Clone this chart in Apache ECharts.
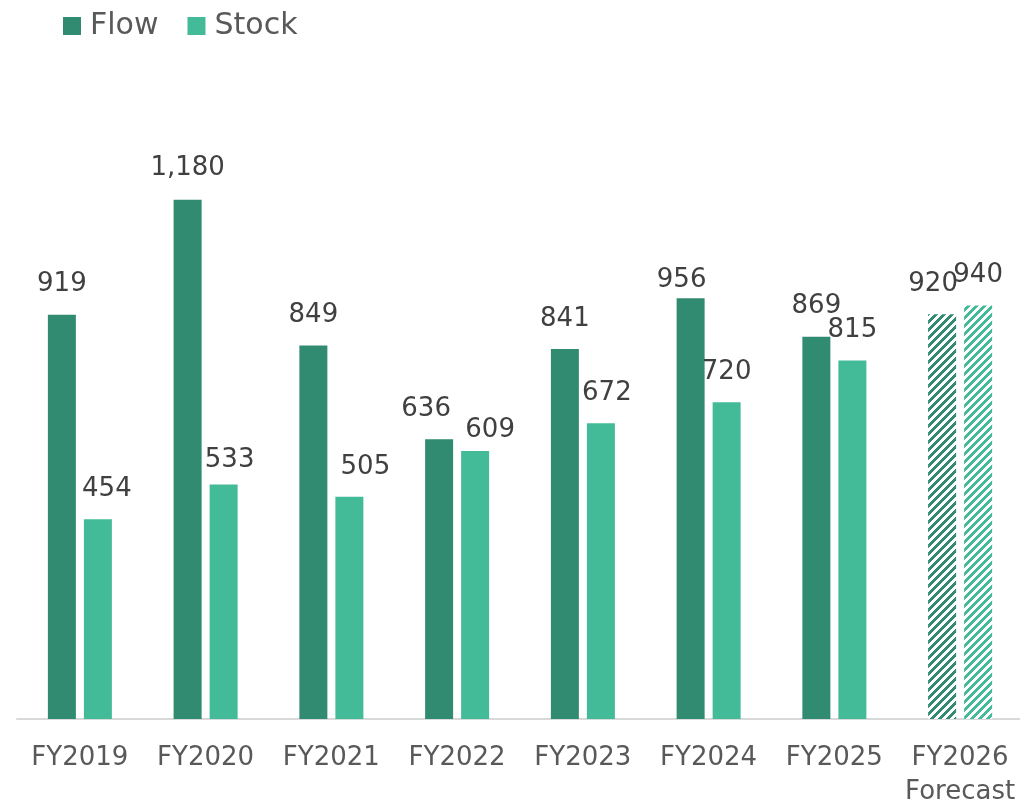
<!DOCTYPE html>
<html>
<head>
<meta charset="utf-8">
<script src="https://cdn.jsdelivr.net/npm/echarts@6/dist/echarts.min.js"></script>
<style>html,body{margin:0;padding:0;background:#fff;}#chart{width:1020px;height:802px;}</style>
</head>
<body>
<div id="chart"></div>
<script>
const categories = ['FY2019','FY2020','FY2021','FY2022','FY2023','FY2024','FY2025','FY2026\nForecast'];
const flowValues = [919, 1180, 849, 636, 841, 956, 869, 920];
const stockValues = [454, 533, 505, 609, 672, 720, 815, 940];
const forecastIndex = 7;

// label nudges (style only)
const flowLabelOffset = [[0,0],[0,-2],[0,0],[-13,0],[0,0],[-9,12],[0,0],[-9,0]];
const stockLabelOffset = [[9,0],[6,6],[16,0],[15,9],[6,0],[0,0],[0,0],[0,0]];

const FLOW = '#318b71';
const STOCK = '#43bb98';

function stripe(color){
  const c = document.createElement('canvas');
  const n = 8;
  c.width = n; c.height = n;
  const ctx = c.getContext('2d');
  ctx.fillStyle = '#ffffff';
  ctx.fillRect(0,0,n,n);
  ctx.fillStyle = color;
  for (let x=0;x<n;x++) for (let y=0;y<n;y++) {
    if (((x+y)%n) < 4) ctx.fillRect(x,y,1,1);
  }
  return {image: c, repeat: 'repeat'};
}

function build(values, color, offsets){
  return values.map((v,i)=>{
    const item = {value: v, label: {offset: offsets[i]}};
    if (i === forecastIndex) item.itemStyle = {color: stripe(color)};
    return item;
  });
}

const chart = echarts.init(document.getElementById('chart'), null, {renderer:'canvas'});
const labelStyle = {
  show: true, position: 'top', distance: 17,
  fontFamily: 'DejaVu Sans', fontSize: 26, color: '#404040',
  formatter: p => p.value.toLocaleString('en-US')
};
chart.setOption({
  animation: false,
  backgroundColor: '#fff',
  legend: {
    left: 58, top: 6,
    itemWidth: 18, itemHeight: 18, itemGap: 29,
    icon: 'rect',
    textStyle: {fontFamily: 'DejaVu Sans', fontSize: 30, color: '#595959', padding: [0,0,0,4]},
    data: ['Flow','Stock']
  },
  grid: {left: 17, width: 1006, top: 103, bottom: 83, containLabel: false, outerBoundsMode: 'none'},
  xAxis: {
    type: 'category', data: categories,
    axisLine: {lineStyle: {color: '#d9d9d9', width: 2}},
    axisTick: {show: false},
    axisLabel: {fontFamily: 'DejaVu Sans', fontSize: 26, color: '#595959', margin: 22, lineHeight: 34, interval: 0}
  },
  yAxis: {type: 'value', min: 0, max: 1400, show: false, splitLine: {show: false}},
  series: [
    {name: 'Flow', type: 'bar', barWidth: 28, barGap: '28.6%', itemStyle: {color: FLOW},
     label: labelStyle, data: build(flowValues, FLOW, flowLabelOffset)},
    {name: 'Stock', type: 'bar', barWidth: 28, barGap: '28.6%', itemStyle: {color: STOCK},
     label: labelStyle, data: build(stockValues, STOCK, stockLabelOffset)}
  ]
});
</script>
</body>
</html>
